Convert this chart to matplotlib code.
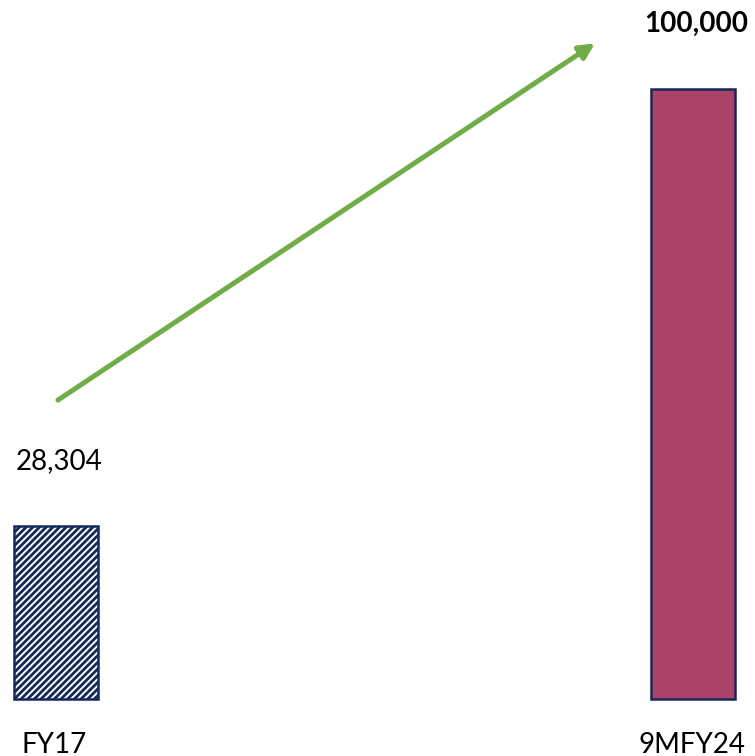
import matplotlib.pyplot as plt

categories = ['FY17', '9MFY24']
values = [28304, 100000]
value_labels = ['28,304', '100,000']

plt.rcParams['font.family'] = ['Lato', 'DejaVu Sans']
plt.rcParams['hatch.linewidth'] = 2.0
plt.rcParams['hatch.color'] = '#14285E'

navy = '#14285E'
maroon = '#AB4368'
green = '#70AD47'

fig = plt.figure(figsize=(7.55, 7.56), dpi=100)
ax = fig.add_axes([0, 0, 1, 1])

x = list(range(len(categories)))
bars = ax.bar(x, values, width=0.132, color=['white', maroon],
              edgecolor=navy, linewidth=1.8)
bars[0].set_hatch('/////')

# labels above and below bars
for i, (v, lab) in enumerate(zip(values, value_labels)):
    weight = 'bold' if i == 1 else 'normal'
    ax.annotate(lab, (x[i], v), xytext=(2, 47), textcoords='offset points',
                ha='center', va='center', fontsize=20, fontweight=weight,
                color='black', annotation_clip=False)
    ax.annotate(categories[i], (x[i], 0), xytext=(-1, -33), textcoords='offset points',
                ha='center', va='center', fontsize=20, color='black',
                annotation_clip=False)

# growth arrow
ax.annotate('', xy=(0.846, 107500), xytext=(0.003, 49000),
            arrowprops=dict(arrowstyle='-|>,head_length=0.9,head_width=0.45',
                            color=green, lw=3.6, shrinkA=0, shrinkB=0))

ax.set_xlim(-0.0879, 1.0973)
ax.set_ylim(-9344, 114590)
ax.axis('off')

fig.savefig('out.png', dpi=100)
